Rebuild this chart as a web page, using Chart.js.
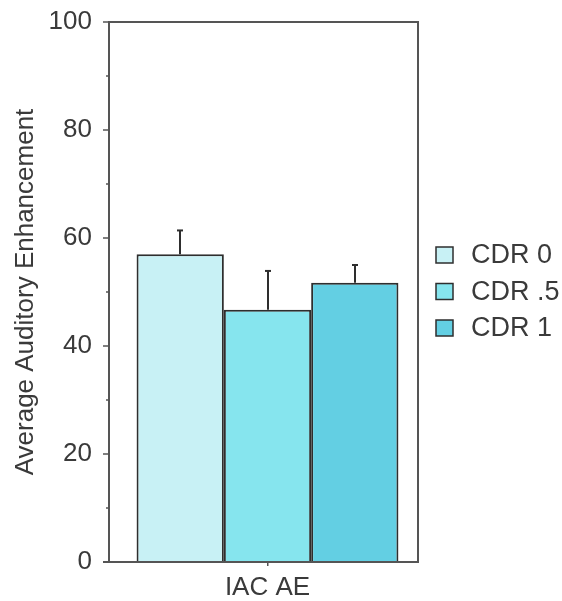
<!DOCTYPE html>
<html>
<head>
<meta charset="utf-8">
<script src="https://cdn.jsdelivr.net/npm/chart.js@4/dist/chart.umd.min.js"></script>
<style>
html,body{margin:0;padding:0;background:#fff;}
#wrap{width:562px;height:601px;position:relative;}
</style>
</head>
<body>
<div id="wrap"><canvas id="c" width="562" height="601"></canvas></div>
<script>
const categories = ["IAC AE"];
const seriesLabels = ["CDR 0", "CDR .5", "CDR 1"];
const meanValues = [57.0, 46.7, 51.7];
const errorTops = [61.4, 53.9, 55.0];
const seriesColors = ["#c8f1f5", "#86e5ee", "#63cfe3"];
const yTicks = [0, 20, 40, 60, 80, 100];
const yMinorTicks = [10, 30, 50, 70, 90];

const textColor = "#3a3a3a";
const lineColor = "#555555";
const fontFamily = "'Liberation Sans', Arial, sans-serif";
const axisGap = 8; // left frame line sits this far left of the plotting area

const datasets = seriesLabels.map((lab, i) => ({
  label: lab,
  data: [meanValues[i]],
  errTop: errorTops[i],
  backgroundColor: seriesColors[i],
  borderColor: "#2e2e2e",
  borderWidth: 2,
  barPercentage: 1.0,
  categoryPercentage: 0.87
}));

const extras = {
  id: "extras",
  afterDatasetsDraw(chart) {
    const ctx = chart.ctx;
    const y = chart.scales.y;
    const a = chart.chartArea;
    const axX = a.left - axisGap;
    ctx.save();
    // error bars
    ctx.strokeStyle = "#2e2e2e";
    ctx.lineWidth = 2;
    chart.data.datasets.forEach((ds, i) => {
      const meta = chart.getDatasetMeta(i);
      meta.data.forEach((bar) => {
        const x = Math.round(bar.x);
        const yTop = y.getPixelForValue(ds.errTop);
        ctx.beginPath();
        ctx.moveTo(x, bar.y);
        ctx.lineTo(x, yTop);
        ctx.stroke();
        ctx.beginPath();
        ctx.moveTo(x - 3, yTop);
        ctx.lineTo(x + 3, yTop);
        ctx.stroke();
      });
    });
    // frame
    ctx.strokeStyle = lineColor;
    ctx.lineWidth = 2;
    ctx.beginPath();
    ctx.moveTo(axX, a.bottom);
    ctx.lineTo(axX, a.top);
    ctx.lineTo(a.right, a.top);
    ctx.lineTo(a.right, a.bottom);
    ctx.lineTo(axX - 6, a.bottom);
    ctx.stroke();
    // major ticks
    ctx.lineWidth = 1.5;
    yTicks.forEach(v => {
      const py = y.getPixelForValue(v);
      ctx.beginPath();
      ctx.moveTo(axX - 6, py);
      ctx.lineTo(axX, py);
      ctx.stroke();
    });
    // minor ticks
    yMinorTicks.forEach(v => {
      const py = y.getPixelForValue(v);
      ctx.beginPath();
      ctx.moveTo(axX - 3, py);
      ctx.lineTo(axX, py);
      ctx.stroke();
    });
    // legend
    ctx.font = "27px " + fontFamily;
    ctx.textBaseline = "middle";
    ctx.textAlign = "left";
    const lx = a.right + 18;
    const ly0 = 255;
    const dy = 36.5;
    chart.data.datasets.forEach((ds, i) => {
      const cy = ly0 + i * dy;
      ctx.fillStyle = ds.backgroundColor;
      ctx.fillRect(lx, cy - 8, 17, 16);
      ctx.strokeStyle = "#2e2e2e";
      ctx.lineWidth = 1.5;
      ctx.strokeRect(lx, cy - 8, 17, 16);
      ctx.fillStyle = textColor;
      ctx.fillText(ds.label, lx + 35, cy + 1);
    });
    ctx.restore();
  }
};

new Chart(document.getElementById("c"), {
  type: "bar",
  data: { labels: categories, datasets: datasets },
  options: {
    responsive: false,
    animation: false,
    layout: { padding: { left: 0, top: 22, right: 144, bottom: 0 } },
    plugins: { legend: { display: false }, tooltip: { enabled: false } },
    scales: {
      x: {
        afterFit(s) { s.height = 39; s.paddingLeft = 0; s.paddingRight = 0; },
        border: { display: false },
        grid: { display: true, drawOnChartArea: false, offset: false, tickLength: 4, color: lineColor, lineWidth: 1.5 },
        ticks: { color: textColor, font: { size: 26, family: fontFamily }, padding: 6 }
      },
      y: {
        min: 0, max: 100,
        afterFit(s) { s.width = 117; s.paddingTop = 0; s.paddingBottom = 0; },
        afterBuildTicks(s) { s.ticks = yTicks.map(v => ({ value: v })); },
        border: { display: false },
        grid: { display: false },
        ticks: { color: textColor, font: { size: 26, family: fontFamily }, padding: 17 },
        title: {
          display: true,
          text: "Average Auditory Enhancement",
          color: textColor,
          font: { size: 26, family: fontFamily },
          padding: { top: 10, bottom: 0 }
        }
      }
    }
  },
  plugins: [extras]
});
</script>
</body>
</html>
